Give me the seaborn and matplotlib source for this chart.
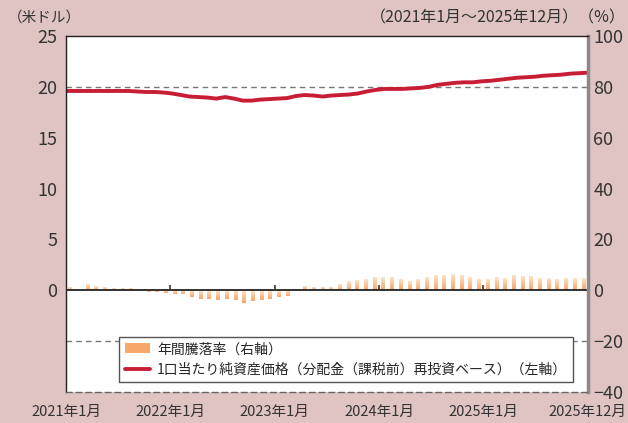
import numpy as np
import pandas as pd
import matplotlib
matplotlib.use("Agg")
import matplotlib.pyplot as plt
import seaborn as sns
from matplotlib.patches import Patch
from matplotlib.lines import Line2D
from matplotlib.colors import LinearSegmentedColormap

# 1口当たり純資産価格 (米ドル), monthly 2021/01 - 2025/12
nav = [19.6, 19.6, 19.6, 19.6, 19.6, 19.6, 19.6, 19.6, 19.55, 19.5,
       19.5, 19.45, 19.35, 19.2, 19.05, 19.0, 18.95, 18.85, 19.0, 18.85,
       18.65, 18.65, 18.75, 18.8, 18.85, 18.9, 19.1, 19.2, 19.15, 19.05,
       19.15, 19.2, 19.25, 19.35, 19.55, 19.7, 19.8, 19.8, 19.8, 19.85,
       19.9, 20.0, 20.2, 20.3, 20.4, 20.45, 20.45, 20.55, 20.6, 20.7,
       20.8, 20.9, 20.95, 21.0, 21.1, 21.15, 21.2, 21.3, 21.35, 21.4]

# 年間騰落率 (%)
yoy = [0.9, 0.1, 2.0, 1.2, 0.8, 0.4, 0.4, 0.4, 0.1, -0.5,
       -0.5, -1.0, -1.4, -1.4, -2.6, -3.4, -3.4, -3.8, -3.4, -3.8,
       -5.0, -4.2, -3.8, -3.4, -2.7, -2.3, 0.1, 1.2, 0.8, 0.8,
       0.8, 2.0, 3.2, 3.6, 4.0, 4.8, 4.8, 4.8, 4.0, 3.2,
       4.0, 4.8, 5.6, 5.6, 6.0, 5.6, 4.8, 4.0, 4.0, 4.8,
       4.4, 5.6, 5.2, 5.2, 4.4, 4.4, 4.0, 4.4, 4.4, 4.4]

tick_labels = ["2021年1月", "2022年1月", "2023年1月", "2024年1月", "2025年1月", "2025年12月"]
bar_label = "年間騰落率（右軸）"
line_label = "1口当たり純資産価格（分配金（課税前）再投資ベース）（左軸）"

bg = "#E0C3C3"
red = "#C81E35"
orange = "#F7A86A"

sns.set_theme(style="white")
plt.rcParams["font.family"] = ["Noto Sans CJK JP", "DejaVu Sans"]

df = pd.DataFrame({
    "bar_x": np.arange(len(yoy)) + 0.5,
    "line_x": np.linspace(0, 60, len(nav)),
    "nav": nav,
    "yoy": yoy,
})

fig = plt.figure(figsize=(6.28, 4.23), dpi=100, facecolor=bg)
ax = fig.add_axes([0.105, 0.0733, 0.831, 0.8415])
ax2 = ax.twinx()
ax.set_zorder(2)
ax2.set_zorder(1)
ax.patch.set_visible(False)
ax2.patch.set_visible(True)
ax2.patch.set_facecolor("white")

# bars (right axis) with a soft vertical gradient
sns.barplot(data=df, x="bar_x", y="yoy", native_scale=True, width=0.45,
            color=orange, errorbar=None, ax=ax2)
cmap = LinearSegmentedColormap.from_list("g", ["#F7A66A", "#FDE4CA"])
grad = np.linspace(0, 1, 64).reshape(-1, 1)
for p in list(ax2.patches):
    x0 = p.get_x()
    w = p.get_width()
    y0, y1 = sorted([p.get_y(), p.get_y() + p.get_height()])
    p.set_visible(False)
    ax2.imshow(grad, extent=[x0, x0 + w, y0, y1], origin="lower", aspect="auto",
               cmap=cmap, interpolation="bilinear", zorder=2)

ax2.axhline(80, color="#777777", lw=1, ls=(0, (4, 3)), zorder=1)
ax2.axhline(-20, color="#777777", lw=1, ls=(0, (4, 3)), zorder=1)
ax2.axhline(0, color="#222222", lw=1.3, zorder=3)
ax2.vlines([12, 24, 36, 48], 0, 2.2, color="#333333", lw=1.2, zorder=3)

# line (left axis)
sns.lineplot(data=df, x="line_x", y="nav", color=red, lw=2.8, ax=ax)

ax.set_xlim(0, 60)
ax.set_ylim(-10, 25)
ax2.set_ylim(-40, 100)
ax.set_yticks([0, 5, 10, 15, 20, 25])
ax2.set_yticks(range(-40, 101, 20))
ax.set_xticks([0, 12, 24, 36, 48, 60], tick_labels)
ax.set_xlabel("")
ax.set_ylabel("")
ax2.set_ylabel("")
ax.tick_params(axis="y", length=0, pad=6, labelsize=13, labelcolor="#333333")
ax2.tick_params(axis="y", length=0, pad=4, labelsize=13, labelcolor="#333333")
ax.tick_params(axis="x", length=0, pad=9, labelsize=10.5, labelcolor="#333333")

for s in ax2.spines.values():
    s.set_visible(False)
ax.spines["left"].set_color("#222222")
ax.spines["left"].set_linewidth(1)
ax.spines["top"].set_color("#222222")
ax.spines["top"].set_linewidth(1)
ax.spines["right"].set_color("#8a8a8a")
ax.spines["right"].set_linewidth(2.5)
ax.spines["bottom"].set_color("#666666")
ax.spines["bottom"].set_linewidth(1)
ax.spines["bottom"].set_linestyle((0, (4, 3)))

fig.text(0.012, 0.958, "（米ドル）", fontsize=10.5, color="#333333", va="center")
fig.text(0.996, 0.958, "（2021年1月～2025年12月）（%）", fontsize=11.5,
         color="#333333", va="center", ha="right")

handles = [Patch(facecolor=orange, edgecolor="none", label=bar_label),
           Line2D([], [], color=red, lw=2.8, label=line_label)]
leg = ax.legend(handles=handles, loc="lower right", bbox_to_anchor=(0.971, 0.028),
                frameon=True, fancybox=False, framealpha=1, edgecolor="#555555",
                fontsize=10, handlelength=1.8, handletextpad=0.5, borderpad=0.4,
                labelspacing=0.45, borderaxespad=0)
leg.get_frame().set_linewidth(1)

fig.savefig("out.png", dpi=100, facecolor=bg)
